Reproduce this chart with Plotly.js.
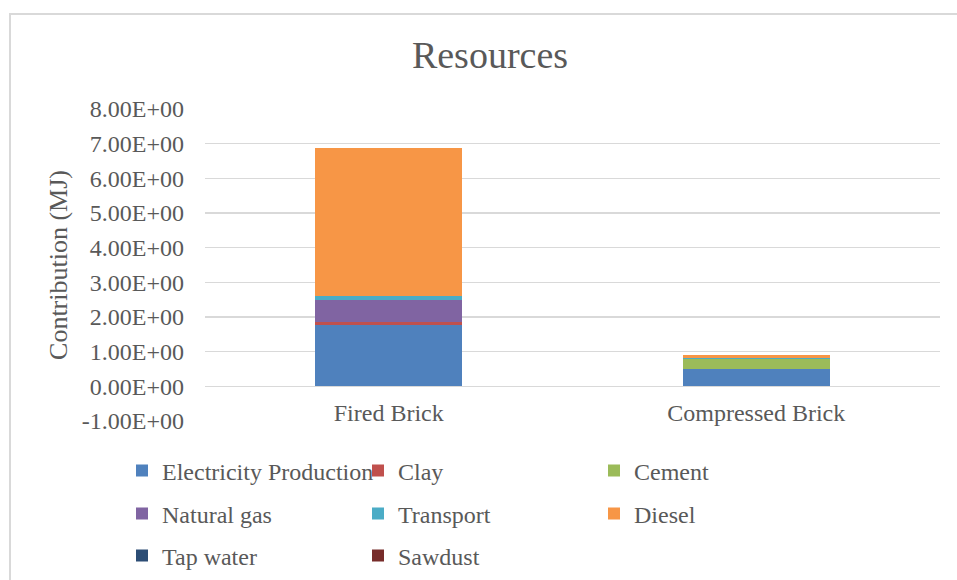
<!DOCTYPE html>
<html>
<head>
<meta charset="utf-8">
<script src="https://cdn.plot.ly/plotly-3.0.1.min.js"></script>
<style>
  html, body { margin: 0; padding: 0; background: #ffffff; }
  #wrap { position: relative; width: 957px; height: 580px; overflow: hidden; }
  #frame { position: absolute; left: 9px; top: 13px; width: 1000px; height: 700px;
           border: 2px solid #d9d9d9; box-sizing: border-box; pointer-events: none; }
  #chart { position: absolute; left: 0; top: 0; width: 957px; height: 580px; }
</style>
</head>
<body>
<div id="wrap">
  <div id="chart"></div>
  <div id="frame"></div>
</div>
<script>
// Products compared
const categories = ["Fired Brick", "Compressed Brick"];

// Resource contributions per product (MJ)
const electricityProduction = [1.76, 0.49];
const clay                  = [0.10, 0.00];
const cement                = [0.00, 0.29];
const naturalGas            = [0.63, 0.00];
const transport             = [0.12, 0.03];
const diesel                = [4.27, 0.08];
const tapWater              = [0.00, 0.00];
const sawdust               = [0.00, 0.00];

// y-axis ticks
const tickValues = [-1, 0, 1, 2, 3, 4, 5, 6, 7, 8];
const tickLabels = ["-1.00E+00", "0.00E+00", "1.00E+00", "2.00E+00", "3.00E+00",
                    "4.00E+00", "5.00E+00", "6.00E+00", "7.00E+00", "8.00E+00"];

// each legend row is its own legend so that rows hold three entries
const series = [
  { name: "Electricity Production", y: electricityProduction, color: "#4F81BD", legend: "legend"  },
  { name: "Clay",                   y: clay,                  color: "#C0504D", legend: "legend"  },
  { name: "Cement",                 y: cement,                color: "#9BBB59", legend: "legend"  },
  { name: "Natural gas",            y: naturalGas,            color: "#8064A2", legend: "legend2" },
  { name: "Transport",              y: transport,             color: "#4BACC6", legend: "legend2" },
  { name: "Diesel",                 y: diesel,                color: "#F79646", legend: "legend2" },
  { name: "Tap water",              y: tapWater,              color: "#2C4D75", legend: "legend3" },
  { name: "Sawdust",                y: sawdust,               color: "#772C2A", legend: "legend3" }
];

const textColor = "#595959";
const fontFamily = "'Liberation Serif', 'Times New Roman', serif";
const baseSize = 24;

const traces = series.map(s => ({
  type: "bar",
  name: s.name,
  x: categories,
  y: s.y,
  legend: s.legend,
  marker: { color: s.color, line: { width: 0 } },
  hoverinfo: "x+y+name"
}));

// plot area geometry in pixels
const plotTop = 109, plotBottom = 420.7, plotLeft = 205, plotRight = 940;
const plotH = plotBottom - plotTop, plotW = plotRight - plotLeft;
const pxToPaperY = py => (plotBottom - py) / plotH;
const pxToPaperX = px => (px - plotLeft) / plotW;

function legendRow(topPx) {
  return {
    orientation: "h",
    x: pxToPaperX(122),
    xanchor: "left",
    y: pxToPaperY(topPx),
    yanchor: "top",
    traceorder: "normal",
    entrywidth: 191,
    entrywidthmode: "pixels",
    font: { family: fontFamily, color: textColor, size: baseSize },
    bgcolor: "rgba(0,0,0,0)"
  };
}

const layout = {
  width: 957,
  height: 580,
  paper_bgcolor: "rgba(0,0,0,0)",
  plot_bgcolor: "rgba(0,0,0,0)",
  barmode: "stack",
  bargap: 0.6,
  margin: { l: plotLeft, r: 957 - plotRight, t: plotTop, b: 580 - plotBottom, autoexpand: false },
  font: { family: fontFamily, color: textColor, size: baseSize },
  title: {
    text: "Resources",
    font: { family: fontFamily, color: textColor, size: 38 },
    x: 0.512, xanchor: "center",
    y: 0.905, yanchor: "middle"
  },
  xaxis: {
    type: "category",
    anchor: "free",
    position: pxToPaperY(386) * 1,
    showline: false,
    showgrid: false,
    zeroline: false,
    ticks: "",
    ticklabelstandoff: 10,
    tickfont: { family: fontFamily, color: textColor, size: baseSize },
    fixedrange: true
  },
  yaxis: {
    range: [-1, 8],
    tickvals: tickValues,
    ticktext: tickLabels,
    showgrid: true,
    gridcolor: "#d9d9d9",
    gridwidth: 1.5,
    zeroline: false,
    showline: false,
    ticks: "",
    ticklabelstandoff: 20,
    tickfont: { family: fontFamily, color: textColor, size: baseSize },
    automargin: false,
    title: {
      text: "Contribution (MJ)",
      font: { family: fontFamily, color: textColor, size: 26 },
      standoff: 6
    },
    fixedrange: true
  },
  showlegend: true,
  legend: legendRow(448),
  legend2: legendRow(491),
  legend3: legendRow(533)
};

Plotly.newPlot("chart", traces, layout, { displayModeBar: false, staticPlot: true });
</script>
</body>
</html>
